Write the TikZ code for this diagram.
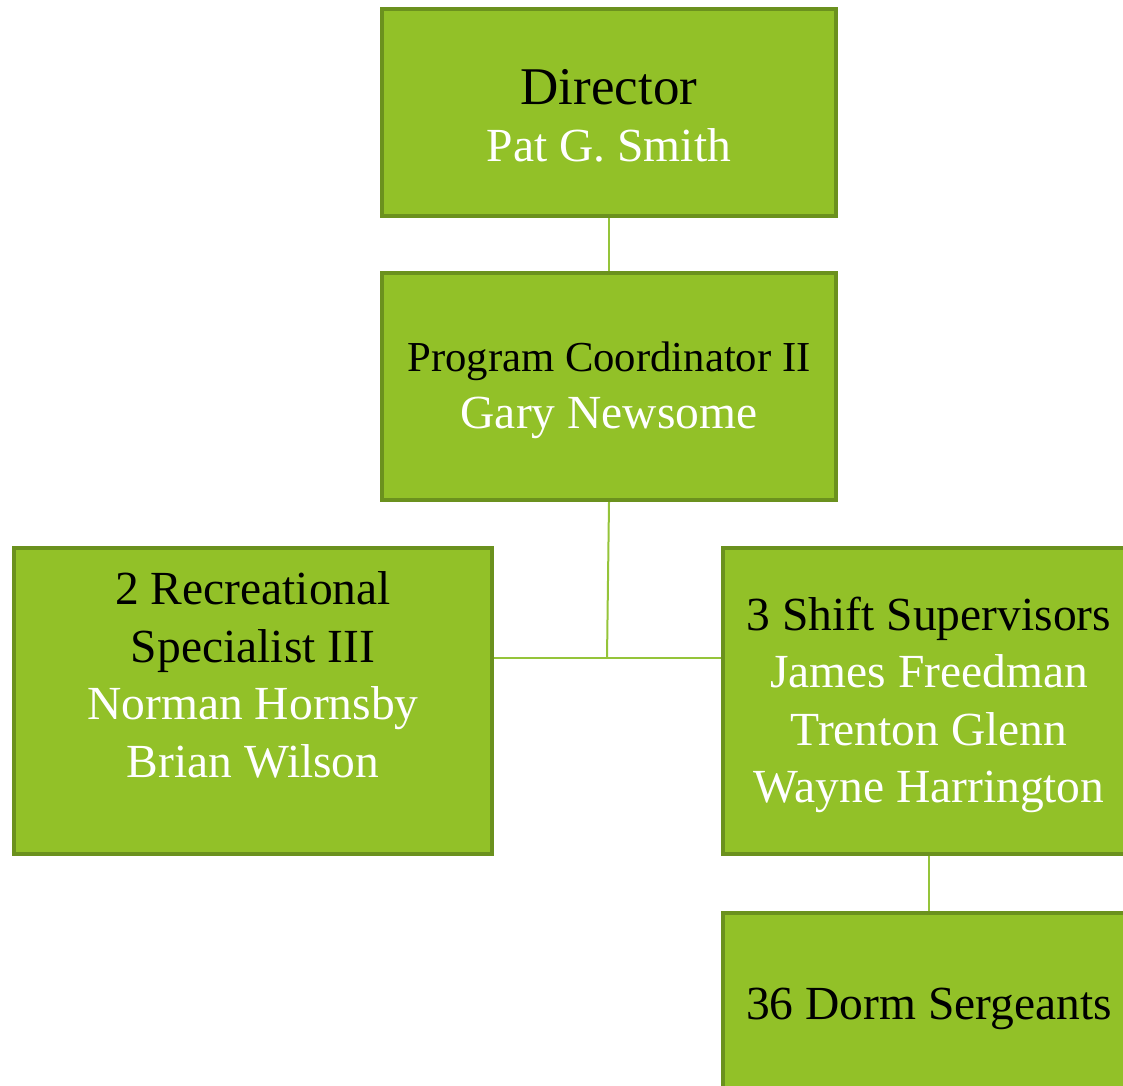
\documentclass[tikz,border=0pt]{standalone}
\usepackage{fontspec}
\setmainfont{Liberation Serif}
\definecolor{boxgreen}{HTML}{92C128}
\definecolor{edgegreen}{HTML}{6B911E}
\definecolor{linegreen}{HTML}{95C43A}
\begin{document}
\begin{tikzpicture}[x=1pt, y=-1pt,
  box/.style={draw=edgegreen, line width=4pt, fill=boxgreen, align=center,
    inner sep=0pt, font=\fontsize{47.5}{57.5}\selectfont},
  link/.style={draw=linegreen, line width=2pt}]

\useasboundingbox (0,0) rectangle (1123,1085);
\clip (0,0) rectangle (1123,1085);

\node[box, minimum width=454, minimum height=207, text height=98pt, text depth=0pt] (dir) at (609,112.5)
  {{\fontsize{53}{59}\selectfont Director}\\ \textcolor{white}{Pat G. Smith}};
\node[box, minimum width=454, minimum height=227, text depth=3pt] (pc) at (609,386.5)
  {{\fontsize{42.7}{56}\selectfont Program Coordinator II}\\ \textcolor{white}{Gary Newsome}};

\node[box, minimum width=478, minimum height=306, text depth=53pt] (rec) at (253,701)
  {2 Recreational\\ Specialist III\\ \textcolor{white}{Norman Hornsby}\\ \textcolor{white}{Brian Wilson}};
\node[box, minimum width=412, minimum height=306, text depth=2pt] (shift) at (929,701)
  {3 Shift Supervisors\\ \textcolor{white}{James Freedman}\\ \textcolor{white}{Trenton Glenn}\\ \textcolor{white}{Wayne Harrington}};
\node[box, minimum width=412, minimum height=184, text depth=3pt] (dorm) at (929,1005)
  {36 Dorm Sergeants};

% connectors
\coordinate (jn) at (607,658);
\draw[link] (dir.south) -- (pc.north);
\draw[link] (pc.south) -- (jn);
\draw[link] (rec.east |- jn) -- (shift.west |- jn);
\draw[link] (shift.south) -- (dorm.north);
\end{tikzpicture}
\end{document}
